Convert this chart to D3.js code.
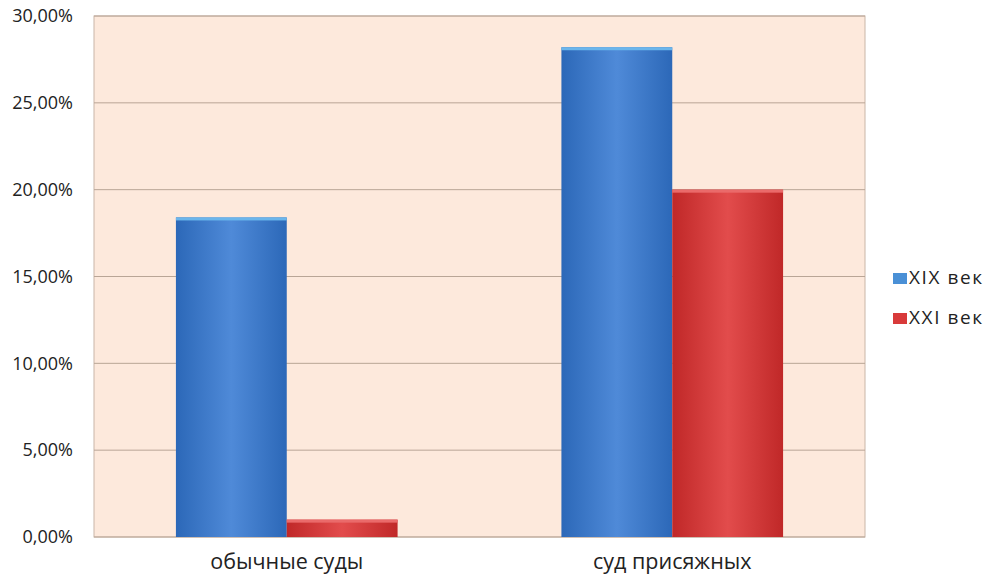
<!DOCTYPE html>
<html>
<head>
<meta charset="utf-8">
<script src="https://cdn.jsdelivr.net/npm/d3@7"></script>
<style>
  body { margin: 0; background: #fff; }
  text { font-family: "Open Sans", "DejaVu Sans", sans-serif; fill: #222; }
</style>
</head>
<body>
<svg id="chart" width="992" height="580"></svg>
<script>
// data
var categories = ["обычные суды", "суд присяжных"];
var seriesNames = ["XIX век", "XXI век"];
var xixValues = [18.4, 28.2];
var xxiValues = [1.0, 20.0];
var yTicks = [0, 5, 10, 15, 20, 25, 30];

var svg = d3.select("svg#chart");
var margin = { left: 94, top: 16, right: 127, bottom: 43 };
var width = 992 - margin.left - margin.right;
var height = 580 - margin.top - margin.bottom;

var defs = svg.append("defs");
function barGrad(id, edge, mid) {
  var g = defs.append("linearGradient").attr("id", id)
    .attr("x1", "0%").attr("x2", "100%").attr("y1", "0%").attr("y2", "0%");
  g.append("stop").attr("offset", "0%").attr("stop-color", edge);
  g.append("stop").attr("offset", "50%").attr("stop-color", mid);
  g.append("stop").attr("offset", "100%").attr("stop-color", edge);
}
barGrad("gBlue", "#2c68b8", "#4f8ad8");
barGrad("gRed", "#c02828", "#e24c4c");

var plot = svg.append("g")
  .attr("transform", "translate(" + margin.left + "," + margin.top + ")");

var y = d3.scaleLinear().domain([0, 30]).range([height, 0]);
var x0 = d3.scaleBand().domain(categories).range([0, width])
  .paddingInner(0.425).paddingOuter(0.2125);
var x1 = d3.scaleBand().domain(seriesNames).range([0, x0.bandwidth()]);

plot.append("rect")
  .attr("width", width).attr("height", height)
  .attr("fill", "#fde9dc").attr("stroke", "#c9b6a8");

plot.selectAll("line.grid").data(yTicks).enter().append("line")
  .attr("class", "grid")
  .attr("x1", 0).attr("x2", width)
  .attr("y1", function (d) { return y(d); })
  .attr("y2", function (d) { return y(d); })
  .attr("stroke", "#b9a596").attr("stroke-width", 1);

var yAxis = d3.axisLeft(y).tickValues(yTicks).tickSize(0).tickPadding(21)
  .tickFormat(function (d) { return d3.format(".2f")(d).replace(".", ",") + "%"; });
plot.append("g").call(yAxis)
  .call(function (g) { g.select(".domain").remove(); })
  .selectAll("text").style("font-size", "18px").attr("fill", "#222");

var rows = categories.map(function (c, i) {
  return [
    { cat: c, series: seriesNames[0], value: xixValues[i], fill: "url(#gBlue)", cap: "#6bb6ec" },
    { cat: c, series: seriesNames[1], value: xxiValues[i], fill: "url(#gRed)", cap: "#ea6a6a" }
  ];
});

var groups = plot.selectAll("g.cat").data(rows).enter().append("g")
  .attr("class", "cat")
  .attr("transform", function (d, i) { return "translate(" + x0(categories[i]) + ",0)"; });

var bars = groups.selectAll("g.bar").data(function (d) { return d; }).enter().append("g")
  .attr("class", "bar");
bars.append("rect")
  .attr("x", function (d) { return x1(d.series); })
  .attr("y", function (d) { return y(d.value); })
  .attr("width", x1.bandwidth())
  .attr("height", function (d) { return height - y(d.value); })
  .attr("fill", function (d) { return d.fill; });
bars.append("rect")
  .attr("x", function (d) { return x1(d.series); })
  .attr("y", function (d) { return y(d.value); })
  .attr("width", x1.bandwidth())
  .attr("height", 3)
  .attr("fill", function (d) { return d.cap; });

var xAxis = d3.axisBottom(x0).tickSize(0).tickPadding(17);
plot.append("g").attr("transform", "translate(0," + height + ")").call(xAxis)
  .call(function (g) { g.select(".domain").remove(); })
  .selectAll("text").style("font-size", "21.5px").attr("fill", "#222");

var legend = svg.append("g").attr("transform", "translate(893,273)");
var legendColors = ["#4a90d6", "#d83a3a"];
var item = legend.selectAll("g").data(seriesNames).enter().append("g")
  .attr("transform", function (d, i) { return "translate(0," + i * 40 + ")"; });
item.append("rect").attr("width", 14).attr("height", 11)
  .attr("fill", function (d, i) { return legendColors[i]; });
item.append("text").attr("x", 16).attr("y", 11)
  .style("font-size", "19px").style("letter-spacing", "1.6px")
  .text(function (d) { return d; });
</script>
</body>
</html>
